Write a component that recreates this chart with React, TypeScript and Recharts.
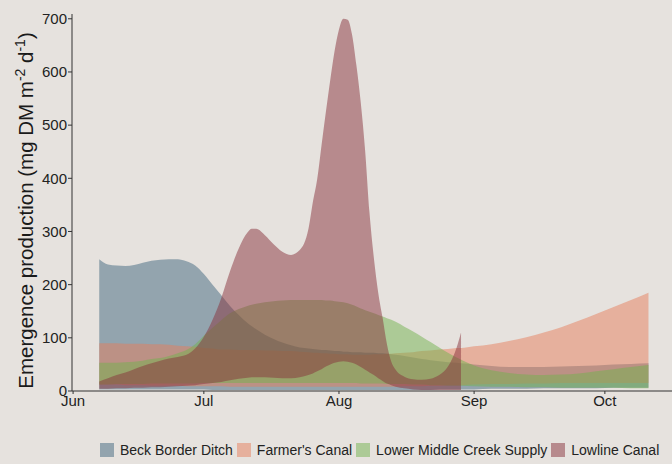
import React from 'react';
import { AreaChart, Area, XAxis, YAxis, Label } from 'recharts';

// days since 1 June
const days = [6,8,10,12,14,16,18,20,22,24,26,28,30,32,34,36,38,40,41,42,44,46,48,50,52,54,
  55,56,57,58,59,60,61,62,63,64,65,66,67,68,69,70,71,72,73,74,
  76,78,80,82,84,86,88,89,92,96,100,104,108,112,116,120,124,128,132];

const beckHigh = [248,238,236,235,237,241,245,247,248,248,244,236,220,200,180,160,143,128,122,116,106,98,91,86,82,80,
  79,78,77,77,76,75,75,74,74,73,73,73,72,72,72,71,71,70,69,68,
  66,63,60,58,56,54,53,52,50,47,45,45,45,46,47,48,50,51,52];
const beckLow = [3,3,3,3,3,3,3,3,3,3,3,3,3,2,2,2,2,2,2,2,2,2,2,2,2,2,
  2,2,2,2,2,2,2,2,2,2,2,2,2,2,2,2,2,2,2,2,
  2,2,2,2,3,3,3,3,3,4,4,4,5,5,5,5,6,6,6];

const farmerHigh = [90,90,90,89,89,89,88,88,87,85,84,83,81,80,78,78,77,77,77,77,76,76,75,75,74,73,
  72,72,71,71,70,70,69,69,69,68,68,68,68,68,69,69,69,70,70,71,
  72,73,75,76,78,79,81,81,84,88,94,101,110,120,132,145,158,171,185];
const farmerLow = [12,12,12,11,11,11,10,10,10,10,9,9,9,9,9,8,8,8,8,8,8,8,8,8,8,8,
  8,8,8,8,8,8,8,8,8,8,8,8,8,8,8,8,8,8,8,8,
  9,9,9,10,10,11,11,11,12,13,13,14,14,15,15,15,15,15,15];

const greenHigh = [53,53,53,54,55,57,60,62,66,71,77,88,104,119,133,146,154,160,162,164,167,169,170,171,171,171,
  171,171,171,170,170,169,168,167,165,162,159,155,152,149,146,143,140,137,134,130,
  121,112,102,92,82,72,63,59,48,39,34,31,30,31,33,37,41,45,49];
const greenLow = [12,12,13,13,13,13,14,14,14,14,14,14,15,15,15,15,15,15,15,15,15,15,15,15,15,15,
  15,15,15,15,15,15,15,15,15,15,15,14,14,14,14,14,14,13,13,13,
  13,12,12,11,11,10,10,10,9,8,8,7,7,6,6,6,6,5,5];

const lowlineHigh: (number | null)[] = [18,24,30,35,41,47,52,57,61,64,68,80,102,134,175,225,268,298,305,305,293,276,262,256,265,305,
  355,398,462,525,585,640,680,700,698,670,612,542,452,335,250,185,138,88,55,40,
  27,22,21,23,30,46,82,110,null,null,null,null,null,null,null,null,null,null,null];
const lowlineLow: (number | null)[] = [4,4,5,5,6,6,7,7,8,9,10,11,13,15,17,20,23,25,26,26,26,25,24,24,26,30,
  33,37,41,46,50,53,55,56,55,53,50,45,40,35,30,24,19,14,11,8,
  5,3,2,2,2,2,2,2,null,null,null,null,null,null,null,null,null,null,null];

const monthTicks = [0, 30, 61, 92, 122];
const monthLabels = ['Jun', 'Jul', 'Aug', 'Sep', 'Oct'];
const yTicks = [0, 100, 200, 300, 400, 500, 600, 700];

const seriesNames = ['Beck Border Ditch', "Farmer's Canal", 'Lower Middle Creek Supply', 'Lowline Canal'];
const seriesKeys = ['beck', 'farmer', 'green', 'lowline'];
const seriesColors = ['#40667e', '#e67e5c', '#72b24e', '#88313b'];

const rows = days.map((day, i) => ({
  day,
  beck: [beckLow[i], beckHigh[i]],
  farmer: [farmerLow[i], farmerHigh[i]],
  green: [greenLow[i], greenHigh[i]],
  lowline: lowlineHigh[i] == null ? null : [lowlineLow[i], lowlineHigh[i]],
}));

const FONT = '"Liberation Sans", Arial, Helvetica, sans-serif';
const BG = '#e6e2de';
const ALPHA = 0.5;

const YTitle = (props: any) => {
  const vb = props.viewBox || { x: 0, y: 14, width: 72, height: 377 };
  const cx = vb.x + 33;
  const cy = vb.y + vb.height / 2 + 8;
  return (
    <text
      x={cx}
      y={cy}
      transform={`rotate(-90 ${cx} ${cy})`}
      textAnchor="middle"
      fontSize={20.5}
      fill="#1a1a1a"
      fontFamily={FONT}
    >
      <tspan>Emergence production (mg DM m</tspan>
      <tspan dy={-8} fontSize={14}>-2</tspan>
      <tspan dy={8}> d</tspan>
      <tspan dy={-8} fontSize={14}>-1</tspan>
      <tspan dy={8}>)</tspan>
    </text>
  );
};

export default function App() {
  return (
    <div style={{ position: 'absolute', left: 0, top: 0, width: 672, height: 464, background: BG, fontFamily: FONT }}>
      <AreaChart width={672} height={464} data={rows} margin={{ top: 14, right: 0, bottom: 0, left: 0 }}>
        <XAxis
          type="number"
          dataKey="day"
          domain={[-0.25, 137.4]}
          ticks={monthTicks}
          tickFormatter={(v: number) => monthLabels[monthTicks.indexOf(v)] ?? ''}
          interval={0}
          height={73}
          tickSize={3}
          tickMargin={1}
          axisLine={{ stroke: '#333', strokeWidth: 1 }}
          tickLine={{ stroke: '#333' }}
          tick={{ fill: '#222', fontSize: 15, fontFamily: FONT }}
          allowDataOverflow
        />
        <YAxis
          type="number"
          domain={[0, 709]}
          ticks={yTicks}
          interval={0}
          width={72}
          tickSize={4}
          tickMargin={1}
          axisLine={{ stroke: '#333', strokeWidth: 1 }}
          tickLine={{ stroke: '#333' }}
          tick={{ fill: '#222', fontSize: 15, fontFamily: FONT }}
          allowDataOverflow
        >
          <Label content={YTitle} />
        </YAxis>
        {seriesKeys.map((k, i) => (
          <Area
            key={k}
            type="monotone"
            dataKey={k}
            stroke="none"
            fill={seriesColors[i]}
            fillOpacity={ALPHA}
            dot={false}
            activeDot={false}
            isAnimationActive={false}
            name={seriesNames[i]}
          />
        ))}
      </AreaChart>
      <div
        style={{
          position: 'absolute',
          left: 100,
          top: 443,
          display: 'flex',
          alignItems: 'center',
          gap: 4,
          fontSize: 14,
          color: '#222',
          lineHeight: '14px',
          whiteSpace: 'nowrap',
        }}
      >
        {seriesNames.map((n, i) => (
          <div key={n} style={{ display: 'flex', alignItems: 'center' }}>
            <span
              style={{
                display: 'inline-block',
                width: 14,
                height: 14,
                background: seriesColors[i],
                opacity: ALPHA,
                marginRight: 6,
              }}
            />
            <span>{n}</span>
          </div>
        ))}
      </div>
    </div>
  );
}
